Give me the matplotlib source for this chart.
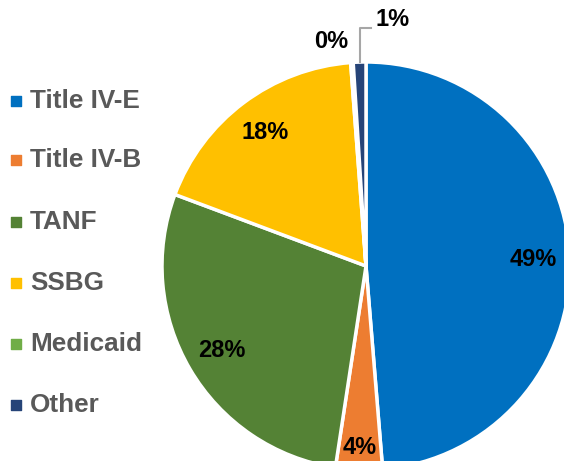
import matplotlib
matplotlib.use("Agg")
import matplotlib.pyplot as plt
import numpy as np

categories = ["Title IV-E", "Title IV-B", "TANF", "SSBG", "Medicaid", "Other"]
values = [48.7, 3.7, 28.3, 18.1, 0.2, 1.0]
colors = ["#0070C0", "#ED7D31", "#548235", "#FFC000", "#70AD47", "#264478"]

plt.rcParams['font.family'] = ['Liberation Sans', 'DejaVu Sans']

W, H = 564, 461
fig = plt.figure(figsize=(W / 100, H / 100), dpi=100)
ax = fig.add_axes([0, 0, 1, 1])

cx, cy, r = 366, H - 266, 204
wedges, texts, autotexts = ax.pie(
    values, colors=colors, startangle=90, counterclock=False,
    center=(cx, cy), radius=r, autopct='%.0f%%', pctdistance=0.82,
    wedgeprops=dict(edgecolor='white', linewidth=2.5),
    textprops=dict(fontsize=17, fontweight='bold', color='black'))

ax.set_xlim(0, W)
ax.set_ylim(0, H)
ax.set_aspect('equal')
ax.axis('off')

def edge_point(w, frac):
    ang = np.deg2rad(w.theta1 + (w.theta2 - w.theta1) * frac)
    return cx + r * np.cos(ang), cy + r * np.sin(ang)

# 4% slightly further out
a = np.deg2rad((wedges[1].theta1 + wedges[1].theta2) / 2)
autotexts[1].set_position((cx + 0.89 * r * np.cos(a), cy + 0.89 * r * np.sin(a)))

mx, my = edge_point(wedges[4], 0.5)
autotexts[4].set_position((mx - 21, my + 21))
ox, oy = edge_point(wedges[5], 0.5)
ax.plot([ox, ox, ox + 11], [oy, oy + 34, oy + 34], color='#A6A6A6', lw=1.5)
autotexts[5].set_position((ox + 33, oy + 43))

# legend
ys = [101, 160, 222, 283, 344, 405]
for cat, col, y in zip(categories, colors, ys):
    ax.scatter([16], [H - y], marker='s', s=42, color=col, zorder=3)
    ax.text(30, H - y, cat, fontsize=18.8, fontweight='bold', color='#595959',
            va='center', ha='left')

fig.savefig("out.png", dpi=100)
